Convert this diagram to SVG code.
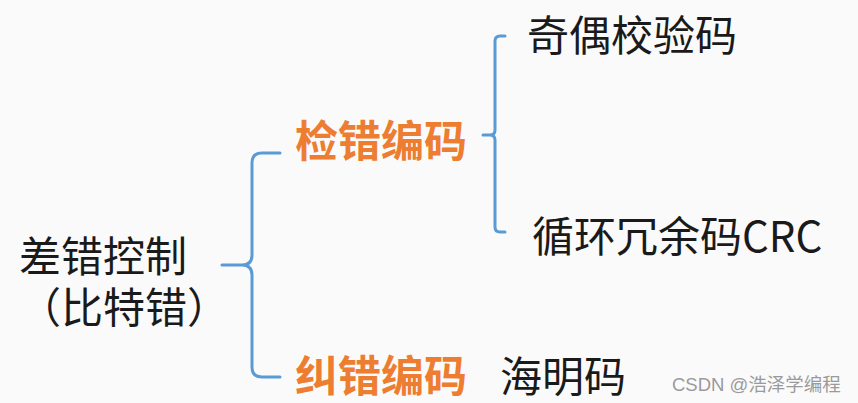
<svg xmlns="http://www.w3.org/2000/svg" width="858" height="403" viewBox="0 0 858 403">
<style>
.t{font-family:"Noto Sans CJK SC","Liberation Sans",sans-serif;fill:#1a1a1a;font-size:42px}
.o{font-family:"Noto Sans CJK SC","Liberation Sans",sans-serif;fill:#ED7D31;font-size:43px;font-weight:bold}
.b{fill:none;stroke:#5B9BD5;stroke-width:3;stroke-linecap:round;stroke-linejoin:round}
.w{font-family:"Liberation Sans","Noto Sans CJK SC",sans-serif;fill:#9a9a9a;font-size:18.5px}
</style>
<rect width="858" height="403" fill="#fafafa"/>
<g id="connectors">
<path class="b" d="M280 153 H262 Q252 153 252 163 V255 Q252 265 242 265 H222 M242 265 Q252 265 252 275 V367 Q252 377 262 377 H280"/>
<path class="b" d="M505 36 H500 Q495 36 495 41 V130 Q495 135 490 135 H483 M490 135 Q495 135 495 140 V227 Q495 232 500 232 H505"/>
</g>
<g id="root"><text class="t"><tspan x="19" y="272">差错控制</tspan><tspan x="19" y="323">（比特错）</tspan></text></g>
<g id="detect"><text class="o" x="295" y="157">检错编码</text></g>
<g id="correct"><text class="o" x="295" y="392">纠错编码</text></g>
<g id="hamming"><text class="t" x="500" y="392">海明码</text></g>
<g id="parity"><text class="t" x="527" y="51">奇偶校验码</text></g>
<g id="crc"><text class="t" x="532" y="252">循环冗余码CRC</text></g>
<text class="w" x="672" y="391">CSDN @浩泽学编程</text>
</svg>
